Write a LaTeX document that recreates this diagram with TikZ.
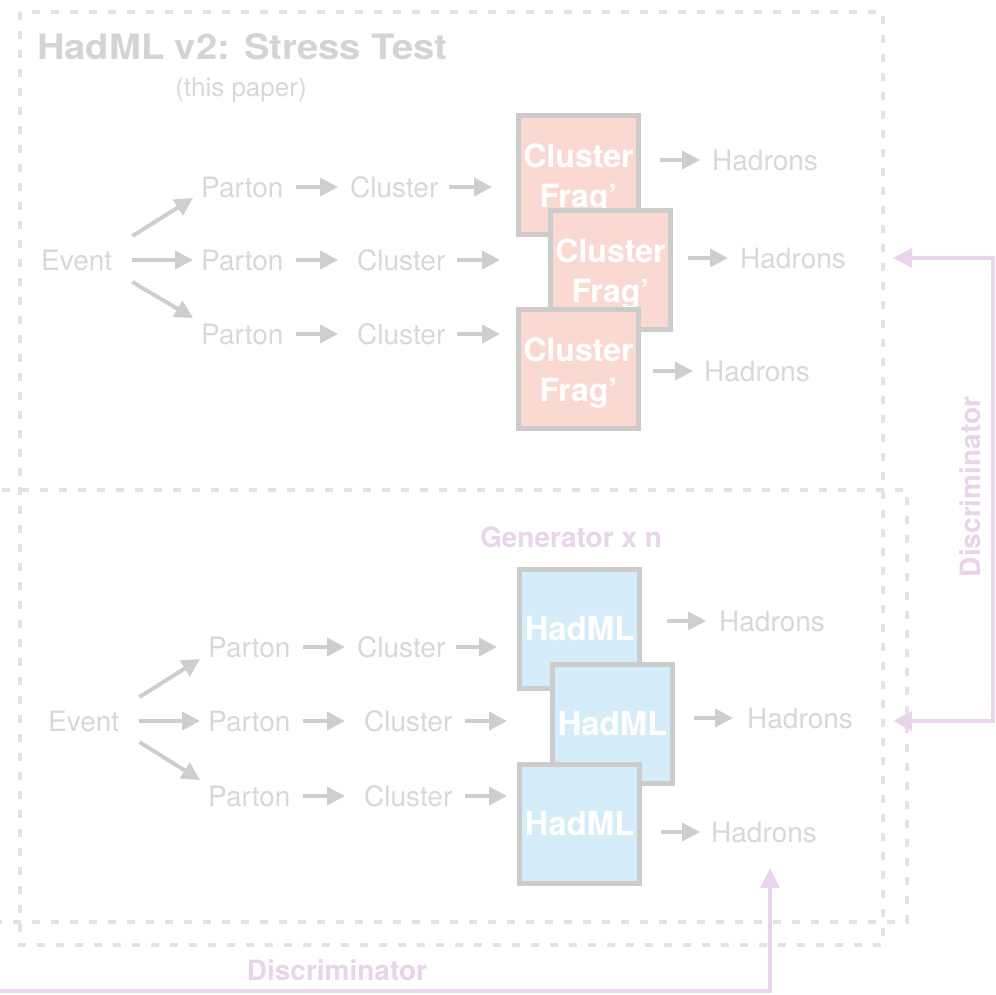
\documentclass[tikz,border=0pt]{standalone}
\usepackage{fontspec}
\setmainfont{TeX Gyre Heros}
\usetikzlibrary{arrows.meta,calc}

\definecolor{txtgray}{RGB}{216,216,216}
\definecolor{titlegray}{RGB}{212,212,212}
\definecolor{arrgray}{RGB}{206,206,206}
\definecolor{boxline}{RGB}{204,204,204}
\definecolor{dashgray}{RGB}{227,227,227}
\definecolor{discpink}{RGB}{233,212,236}
\definecolor{fragfill}{RGB}{250,217,211}
\definecolor{mlfill}{RGB}{213,236,250}

% taller first line pushes the two-line box text slightly down
\newcommand{\fragtext}{\rule{0pt}{31pt}Cluster\\Frag’}

\tikzset{
  lbl/.style={text=txtgray, font=\fontsize{28}{34}\selectfont, inner sep=0pt,
    text height=20pt, text depth=0pt, anchor=west},
  flow/.style={draw=arrgray, line width=4pt, -{Triangle[length=18pt,width=18pt]}},
  stage/.style={draw=boxline, line width=5pt, minimum width=120pt,
    minimum height=119pt, inner sep=0pt, text=white, align=center},
  frag/.style={stage, fill=fragfill, font=\bfseries\fontsize{32}{40}\selectfont},
  hadml/.style={stage, fill=mlfill, font=\bfseries\fontsize{33}{39}\selectfont},
  frame/.style={draw=dashgray, line width=4pt, dash pattern=on 8pt off 11pt},
  disc/.style={draw=discpink, line width=3.5pt},
  disclbl/.style={text=discpink, font=\bfseries\fontsize{28}{34}\selectfont, inner sep=0pt},
}

\begin{document}
\begin{tikzpicture}[x=1pt, y=-1pt]
\useasboundingbox (0,0) rectangle (996,994);

% dashed frames
\draw[frame] (20,12) rectangle (883,945);
\draw[frame] (-30,490) rectangle (907,922);

% heading
\node[anchor=west, inner sep=0pt, text=titlegray,
  font=\bfseries\fontsize{35}{40}\selectfont] (title) at (37,47)
  {\scalebox{1.09}[1]{HadML v2: Stress Test}};
\node[inner sep=0pt, text=txtgray, font=\fontsize{26}{30}\selectfont]
  (sub) at (241,90) {(this paper)};

% ---------- cluster fragmentation chain ----------
\node[lbl] (ev1) at (41,260) {Event};
\node[lbl] (p1) at (201,187) {Parton};
\node[lbl] (p2) at (201,260) {Parton};
\node[lbl] (p3) at (201,334) {Parton};
\node[lbl] (c1) at (350,187) {Cluster};
\node[lbl] (c2) at (357,260) {Cluster};
\node[lbl] (c3) at (357,334) {Cluster};
\node[frag] (f1) at (578.5,175) {\fragtext};
\node[frag] (f2) at (610.5,270) {\fragtext};
\node[frag] (f3) at (578.5,369) {\fragtext};
\node[lbl] (h1) at (712,160) {Hadrons};
\node[lbl] (h2) at (740,258) {Hadrons};
\node[lbl] (h3) at (704,371) {Hadrons};

\draw[flow] ([shift={(20,-24)}]ev1.east) -- ([shift={(-8,11)}]p1.west);
\draw[flow, shorten <=20pt, shorten >=8pt] (ev1.east) -- (p2.west);
\draw[flow] ([shift={(20,22)}]ev1.east) -- ([shift={(-8,-16)}]p3.west);

\draw[flow, shorten <=12pt, shorten >=12pt] (p1.east) -- (c1.west);
\draw[flow, shorten <=12pt, shorten >=19pt] (p2.east) -- (c2.west);
\draw[flow, shorten <=12pt, shorten >=19pt] (p3.east) -- (c3.west);

\draw[flow, shorten <=10pt, shorten >=24pt] (c1.east) -- (c1.east -| f1.west);
\draw[flow, shorten <=11pt, shorten >=48pt] (c2.east) -- (c2.east -| f2.west);
\draw[flow, shorten <=11pt, shorten >=16pt] (c3.east) -- (c3.east -| f3.west);

\draw[flow, shorten <=19pt, shorten >=12pt] (h1.west -| f1.east) -- (h1.west);
\draw[flow, shorten <=15pt, shorten >=12pt] (h2.west -| f2.east) -- (h2.west);
\draw[flow, shorten <=12pt, shorten >=11pt] (h3.west -| f3.east) -- (h3.west);

% ---------- HadML generator chain ----------
\node[disclbl] (gen) at (571,537) {Generator x n};

\node[lbl] (ev2) at (48,721) {Event};
\node[lbl] (p4) at (208,647) {Parton};
\node[lbl] (p5) at (208,721) {Parton};
\node[lbl] (p6) at (208,796) {Parton};
\node[lbl] (c4) at (357,647) {Cluster};
\node[lbl] (c5) at (364,721) {Cluster};
\node[lbl] (c6) at (364,796) {Cluster};
\node[hadml] (m1) at (579.5,629) {HadML};
\node[hadml] (m2) at (612.5,724) {HadML};
\node[hadml] (m3) at (579.5,823.5) {HadML};
\node[lbl] (h4) at (719,621) {Hadrons};
\node[lbl] (h5) at (747,718) {Hadrons};
\node[lbl] (h6) at (711,832) {Hadrons};

\draw[flow] ([shift={(20,-24)}]ev2.east) -- ([shift={(-8,12)}]p4.west);
\draw[flow, shorten <=20pt, shorten >=8pt] (ev2.east) -- (p5.west);
\draw[flow] ([shift={(20,21)}]ev2.east) -- ([shift={(-8,-16)}]p6.west);

\draw[flow, shorten <=12pt, shorten >=12pt] (p4.east) -- (c4.west);
\draw[flow, shorten <=12pt, shorten >=19pt] (p5.east) -- (c5.west);
\draw[flow, shorten <=12pt, shorten >=19pt] (p6.east) -- (c6.west);

\draw[flow, shorten <=10pt, shorten >=20pt] (c4.east) -- (c4.east -| m1.west);
\draw[flow, shorten <=12pt, shorten >=43pt] (c5.east) -- (c5.east -| m2.west);
\draw[flow, shorten <=12pt, shorten >=10pt] (c6.east) -- (c6.east -| m3.west);

\draw[flow, shorten <=25pt, shorten >=13pt] (h4.west -| m1.east) -- (h4.west);
\draw[flow, shorten <=19pt, shorten >=14pt] (h5.west -| m2.east) -- (h5.west);
\draw[flow, shorten <=19pt, shorten >=11pt] (h6.west -| m3.east) -- (h6.west);

% ---------- discriminator feedback ----------
\coordinate (dR1) at (893,258);
\coordinate (dR2) at (893,721);
\draw[disc, {Triangle[length=19pt,width=19pt]}-{Triangle[length=19pt,width=19pt]}]
  (dR1) -- ++(100,0) |- (dR2);
\node[disclbl, rotate=90] (discR) at (970,487) {Discriminator};

\coordinate (dB0) at (-5,991);
\coordinate (dB1) at (770,868);
\draw[disc, -{Triangle[length=20pt,width=19pt]}] (dB0) -| (dB1);
\node[disclbl] (discB) at (337,970) {Discriminator};
\end{tikzpicture}
\end{document}
